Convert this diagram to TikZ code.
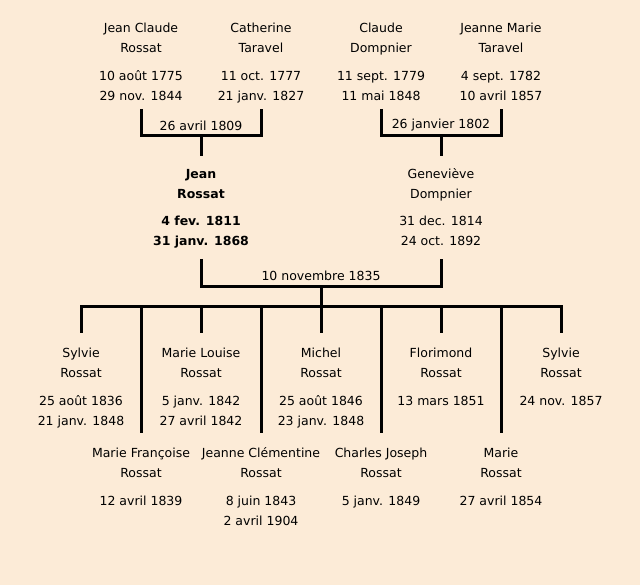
\documentclass[tikz,border=0pt]{standalone}
\usepackage{fontspec}
\setmainfont{DejaVu Sans}
\usetikzlibrary{positioning,calc}
\definecolor{paper}{RGB}{252,235,215}
\tikzset{
  person/.style={align=center,inner sep=0pt,anchor=north,font=\fontsize{12.5}{20}\selectfont},
  wedding/.style={inner sep=0pt,font=\fontsize{12.5}{20}\selectfont},
  bar/.style={line width=3pt}
}

\begin{document}
\begin{tikzpicture}[x=1pt,y=-1pt]
\fill[paper] (0,0) rectangle (640,585);
\useasboundingbox (0,0) rectangle (640,585);
% grands-parents
\node[person] (jc) at (141,18) {\strut Jean Claude\\Rossat\\[8pt]10 août 1775\\29 nov. 1844\strut};
\node[person] (ct) at (261,18) {\strut Catherine\\Taravel\\[8pt]11 oct. 1777\\21 janv. 1827\strut};
\node[person] (cd) at (381,18) {\strut Claude\\Dompnier\\[8pt]11 sept. 1779\\11 mai 1848\strut};
\node[person] (jm) at (501,18) {\strut Jeanne Marie\\Taravel\\[8pt]4 sept. 1782\\10 avril 1857\strut};
\coordinate (w1) at (201,136);
\coordinate (w2) at (441,136);
\node[wedding] (m1) at (201,125.5) {26 avril 1809};
\node[wedding] (m2) at (441,125.5) {26 janvier 1802};
% parents
\node[person,font=\fontsize{12.5}{20}\selectfont\bfseries] (jr) at (201,164) {\strut Jean\\Rossat\\[7pt]4 fev. 1811\\31 janv. 1868\strut};
\node[person] (gd) at (441,164) {\strut Geneviève\\Dompnier\\[7pt]31 dec. 1814\\24 oct. 1892\strut};
\draw[bar] ([yshift=-2.5pt]jc.south) |- (w1) -| ([yshift=-2.5pt]ct.south);
\draw[bar] ([yshift=-2.5pt]cd.south) |- (w2) -| ([yshift=-2.5pt]jm.south);
\draw[bar] (w1) -- ([yshift=8pt]jr.north);
\draw[bar] (w2) -- ([yshift=8pt]gd.north);
\coordinate (w3) at (321,287);
\coordinate (sib) at (321,306.5);
\node[wedding] (m3) at (321,275.5) {10 novembre 1835};
\draw[bar] ([yshift=-7.5pt]jr.south) |- (w3) -| ([yshift=-7.5pt]gd.south);
\draw[bar] (w3) -- (sib);
% enfants
\node[person] (s1) at (81,343) {\strut Sylvie\\Rossat\\[8pt]25 août 1836\\21 janv. 1848\strut};
\node[person] (ml) at (201,343) {\strut Marie Louise\\Rossat\\[8pt]5 janv. 1842\\27 avril 1842\strut};
\node[person] (mi) at (321,343) {\strut Michel\\Rossat\\[8pt]25 août 1846\\23 janv. 1848\strut};
\node[person] (fl) at (441,343) {\strut Florimond\\Rossat\\[8pt]13 mars 1851\strut};
\node[person] (s2) at (561,343) {\strut Sylvie\\Rossat\\[8pt]24 nov. 1857\strut};
\node[person] (mf) at (141,443) {\strut Marie Françoise\\Rossat\\[8pt]12 avril 1839\strut};
\node[person] (jcl) at (261,443) {\strut Jeanne Clémentine\\Rossat\\[8pt]8 juin 1843\\2 avril 1904\strut};
\node[person] (cj) at (381,443) {\strut Charles Joseph\\Rossat\\[8pt]5 janv. 1849\strut};
\node[person] (ma) at (501,443) {\strut Marie\\Rossat\\[8pt]27 avril 1854\strut};
\draw[bar,line cap=rect] (s1 |- sib) -- (s2 |- sib);
\foreach \c in {s1,ml,mi,fl,s2,mf,jcl,cj,ma}
  \draw[bar] (\c |- sib) -- ([yshift=10pt]\c.north);
\end{tikzpicture}
\end{document}
